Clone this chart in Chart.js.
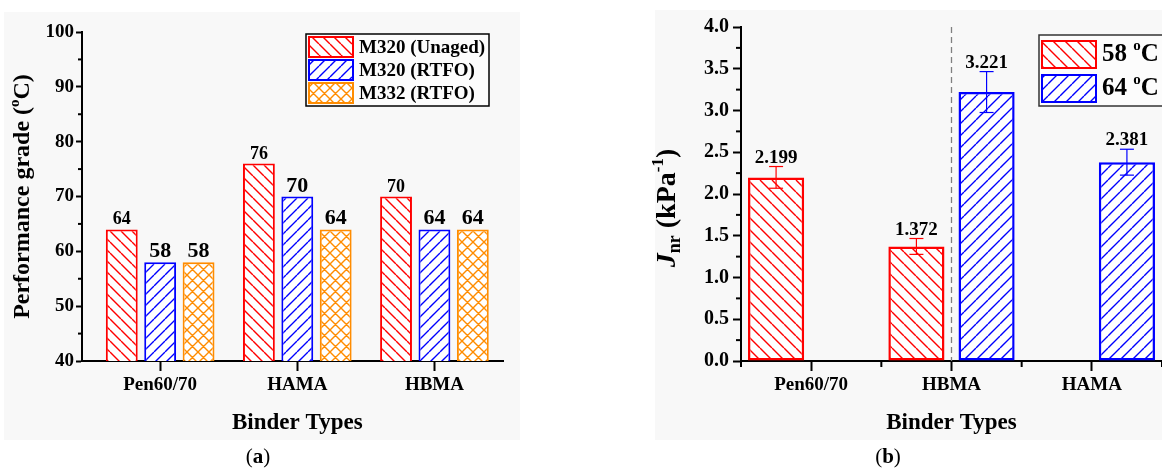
<!DOCTYPE html>
<html>
<head>
<meta charset="utf-8">
<script src="https://cdn.jsdelivr.net/npm/chart.js@4.4.0/dist/chart.umd.min.js"></script>
<style>
  body { margin: 0; background: #fff; width: 1162px; height: 469px; overflow: hidden; position: relative; font-family: "Liberation Serif", serif; }
  .panel { position: absolute; background: #f8f8f8; }
  canvas { position: absolute; top: 0; }
  .cap { position: absolute; top: 443px; width: 60px; text-align: center; font-size: 21px; line-height: 26px; color: #000; }
</style>
</head>
<body>
<div class="panel" style="left:4px;top:12px;width:516px;height:428px"></div>
<div class="panel" style="left:655px;top:10px;width:507px;height:430px"></div>
<canvas id="chartA" width="540" height="469" style="left:0"></canvas>
<canvas id="chartB" width="582" height="469" style="left:580px"></canvas>
<div class="cap" style="left:228px">(<b>a</b>)</div>
<div class="cap" style="left:858px">(<b>b</b>)</div>
<script>
// (a) performance grade
const categoriesA = ['Pen60/70', 'HAMA', 'HBMA'];
const seriesA = ['M320 (Unaged)', 'M320 (RTFO)', 'M332 (RTFO)'];
const unagedM320 = [64, 76, 70];
const rtfoM320 = [58, 70, 64];
const rtfoM332 = [58, 64, 64];

// (b) Jnr
const categoriesB = ['Pen60/70', 'HBMA', 'HAMA'];
const tempsB = ['58', '64'];
const jnr58 = [2.199, 1.372, null];
const jnr64 = [null, 3.221, 2.381];
const err58 = [0.13, 0.095, null];
const err64 = [null, 0.245, 0.155];

const FONT = '"Liberation Serif", "Times New Roman", serif';
const RED = '#ff0000', BLUE = '#0000ff', ORANGE = '#ff8c00';

Chart.defaults.font.family = FONT;
Chart.defaults.color = '#000';

function makePattern(color, kind, size) {
  const c = document.createElement('canvas');
  c.width = size; c.height = size;
  const g = c.getContext('2d');
  g.fillStyle = '#fff';
  g.fillRect(0, 0, size, size);
  g.strokeStyle = color;
  g.lineWidth = 1.4;
  g.beginPath();
  for (let k = -1; k <= 1; k++) {
    if (kind !== 'fwd') { g.moveTo(k * size, 0); g.lineTo(k * size + size, size); }
    if (kind !== 'back') { g.moveTo(k * size, size); g.lineTo(k * size + size, 0); }
  }
  g.stroke();
  return g.createPattern(c, 'repeat');
}

// text made of parts [text, font, dy], optionally rotated
function richText(ctx, parts, x, y, align, rotate) {
  let w = 0;
  parts.forEach(p => { ctx.font = p[1]; w += ctx.measureText(p[0]).width; });
  ctx.save();
  ctx.translate(x, y);
  if (rotate) ctx.rotate(-Math.PI / 2);
  let cx = align === 'center' ? -w / 2 : 0;
  ctx.textBaseline = 'middle';
  ctx.textAlign = 'left';
  ctx.fillStyle = '#000';
  parts.forEach(p => {
    ctx.font = p[1];
    ctx.fillText(p[0], cx, p[2] || 0);
    cx += ctx.measureText(p[0]).width;
  });
  ctx.restore();
}

function line(ctx, x1, y1, x2, y2) {
  ctx.beginPath(); ctx.moveTo(x1, y1); ctx.lineTo(x2, y2); ctx.stroke();
}

// ---------- chart (a) ----------
const extrasA = {
  id: 'extrasA',
  afterDraw(chart) {
    const { ctx, chartArea, scales: { x, y } } = chart;
    ctx.save();
    // minor y ticks
    ctx.strokeStyle = '#000'; ctx.lineWidth = 2;
    for (let v = 45; v < 100; v += 10) {
      const py = y.getPixelForValue(v);
      line(ctx, chartArea.left - 4, py, chartArea.left, py);
    }
    // value labels
    ctx.textAlign = 'center';
    ctx.textBaseline = 'alphabetic';
    ctx.fillStyle = '#000';
    chart.data.datasets.forEach((ds, i) => {
      const meta = chart.getDatasetMeta(i);
      ctx.font = 'bold ' + ds.labelSize + 'px ' + FONT;
      meta.data.forEach((el, j) => {
        ctx.fillText(String(ds.data[j].y), el.x, el.y - 5);
      });
    });
    // axis titles
    richText(ctx, [['Binder Types', 'bold 23px ' + FONT]], x.getPixelForValue(2), 423, 'center');
    richText(ctx, [
      ['Performance grade (', 'bold 24px ' + FONT],
      ['o', 'bold 15px ' + FONT, -8],
      ['C)', 'bold 24px ' + FONT]
    ], 23, (chartArea.top + chartArea.bottom) / 2, 'center', true);
    // legend
    ctx.strokeStyle = '#000'; ctx.lineWidth = 1.5;
    ctx.fillStyle = 'rgba(255,255,255,0.6)';
    ctx.fillRect(306, 34, 183, 72);
    ctx.strokeRect(306, 34, 183, 72);
    chart.data.datasets.forEach((ds, i) => {
      const sy = 37 + i * 23;
      ctx.fillStyle = ds.backgroundColor;
      ctx.fillRect(309, sy, 44, 20);
      ctx.strokeStyle = ds.borderColor; ctx.lineWidth = 2;
      ctx.strokeRect(309, sy, 44, 20);
      richText(ctx, [[ds.label, 'bold 19px ' + FONT]], 359, sy + 11, 'left');
    });
    ctx.restore();
  }
};

const ctxA = document.getElementById('chartA').getContext('2d');
const toPoints = arr => arr.map((v, i) => ({ x: i + 1, y: v }));
new Chart(ctxA, {
  type: 'bar',
  data: {
    datasets: [
      { label: seriesA[0], data: toPoints(unagedM320), backgroundColor: makePattern(RED, 'back', 11), borderColor: RED, labelSize: 18 },
      { label: seriesA[1], data: toPoints(rtfoM320), backgroundColor: makePattern(BLUE, 'fwd', 11), borderColor: BLUE, labelSize: 22 },
      { label: seriesA[2], data: toPoints(rtfoM332), backgroundColor: makePattern(ORANGE, 'cross', 11), borderColor: ORANGE, labelSize: 22 }
    ]
  },
  options: {
    responsive: false,
    animation: false,
    layout: { padding: { left: 0, top: 32, right: 37, bottom: 0 } },
    datasets: { bar: { borderWidth: 2, borderSkipped: false, categoryPercentage: 0.84, barPercentage: 0.83 } },
    plugins: { legend: { display: false }, tooltip: { enabled: false } },
    scales: {
      x: {
        type: 'linear', min: 0.43, max: 3.5, offset: false,
        afterBuildTicks: s => { s.ticks = categoriesA.map((c, i) => ({ value: i + 1 })); },
        afterFit: s => { s.height = 108; },
        ticks: { callback: v => categoriesA[v - 1] || '', autoSkip: false, maxRotation: 0, padding: 3, color: '#000', font: { size: 19, weight: 'bold' } },
        grid: { offset: false, drawOnChartArea: false, tickLength: 10, tickWidth: 2, tickColor: '#000' },
        border: { color: '#000', width: 2 }
      },
      y: {
        min: 40, max: 100,
        afterFit: s => { s.width = 82; },
        ticks: { stepSize: 10, padding: 2, color: '#000', font: { size: 19, weight: 'bold' } },
        grid: { drawOnChartArea: false, tickLength: 6, tickWidth: 2, tickColor: '#000' },
        border: { color: '#000', width: 2 }
      }
    }
  },
  plugins: [extrasA]
});

// ---------- chart (b) ----------
const extrasB = {
  id: 'extrasB',
  beforeDatasetsDraw(chart) {
    const { ctx, chartArea, scales: { x } } = chart;
    ctx.save();
    ctx.strokeStyle = '#808080'; ctx.lineWidth = 1.3;
    ctx.setLineDash([6, 4]);
    const px = x.getPixelForValue(1);
    line(ctx, px, chartArea.top, px, chartArea.bottom);
    ctx.restore();
  },
  afterDraw(chart) {
    const { ctx, chartArea, scales: { x, y } } = chart;
    ctx.save();
    ctx.strokeStyle = '#000'; ctx.lineWidth = 2;
    // minor ticks
    for (let v = 0.25; v < 4; v += 0.5) {
      const py = y.getPixelForValue(v);
      line(ctx, chartArea.left - 5, py, chartArea.left, py);
    }
    for (let k = -0.5; k < 3; k += 1) {
      const px = x.getPixelForValue(k);
      line(ctx, px, chartArea.bottom, px, chartArea.bottom + 6);
    }
    // error bars and labels
    chart.data.datasets.forEach((ds, i) => {
      const meta = chart.getDatasetMeta(i);
      meta.data.forEach((el, j) => {
        const v = ds.data[j];
        if (v === null) return;
        const e = ds.errors[j];
        const top = y.getPixelForValue(v + e), bot = y.getPixelForValue(v - e);
        ctx.strokeStyle = ds.borderColor; ctx.lineWidth = 1.2;
        line(ctx, el.x, top, el.x, bot);
        line(ctx, el.x - 7, top, el.x + 7, top);
        line(ctx, el.x - 7, bot, el.x + 7, bot);
        ctx.fillStyle = '#000';
        ctx.font = 'bold 19px ' + FONT;
        ctx.textAlign = 'center';
        ctx.textBaseline = 'alphabetic';
        ctx.fillText(v.toFixed(3), el.x, top - 4);
      });
    });
    // axis titles
    richText(ctx, [['Binder Types', 'bold 23px ' + FONT]], x.getPixelForValue(1), 423, 'center');
    richText(ctx, [
      ['J', 'bold italic 28px ' + FONT],
      ['nr', 'bold 18px ' + FONT, 7],
      [' (kPa', 'bold 28px ' + FONT],
      ['-1', 'bold 17px ' + FONT, -9],
      [')', 'bold 28px ' + FONT]
    ], 88, 208, 'center', true);
    // legend
    ctx.strokeStyle = '#333'; ctx.lineWidth = 1.5;
    ctx.fillStyle = 'rgba(255,255,255,0.6)';
    ctx.fillRect(459, 35, 140, 71);
    ctx.strokeRect(459, 35, 140, 71);
    chart.data.datasets.forEach((ds, i) => {
      const sy = 41 + i * 34;
      ctx.fillStyle = ds.backgroundColor;
      ctx.fillRect(462, sy, 54, 27);
      ctx.strokeStyle = ds.borderColor; ctx.lineWidth = 2;
      ctx.strokeRect(462, sy, 54, 27);
      richText(ctx, [
        [ds.label + ' ', 'bold 25px ' + FONT],
        ['o', 'bold 15px ' + FONT, -9],
        ['C', 'bold 25px ' + FONT]
      ], 522, sy + 14, 'left');
    });
    ctx.restore();
  }
};

const ctxB = document.getElementById('chartB').getContext('2d');
new Chart(ctxB, {
  type: 'bar',
  data: {
    labels: categoriesB,
    datasets: [
      { label: tempsB[0], data: jnr58, errors: err58, backgroundColor: makePattern(RED, 'back', 12), borderColor: RED },
      { label: tempsB[1], data: jnr64, errors: err64, backgroundColor: makePattern(BLUE, 'fwd', 12), borderColor: BLUE }
    ]
  },
  options: {
    responsive: false,
    animation: false,
    layout: { padding: { left: 0, top: 27, right: 0, bottom: 0 } },
    datasets: { bar: { borderWidth: 2.5, borderSkipped: false, categoryPercentage: 1.0, barPercentage: 0.8 } },
    plugins: { legend: { display: false }, tooltip: { enabled: false } },
    scales: {
      x: {
        afterFit: s => { s.height = 108; },
        ticks: { autoSkip: false, maxRotation: 0, padding: 3, color: '#000', font: { size: 19, weight: 'bold' } },
        grid: { offset: false, drawOnChartArea: false, tickLength: 10, tickWidth: 2, tickColor: '#000' },
        border: { color: '#000', width: 2 }
      },
      y: {
        min: 0, max: 4,
        afterFit: s => { s.width = 161; },
        ticks: { stepSize: 0.5, callback: v => v.toFixed(1), padding: 4, color: '#000', font: { size: 20, weight: 'bold' } },
        grid: { drawOnChartArea: false, tickLength: 8, tickWidth: 2, tickColor: '#000' },
        border: { color: '#000', width: 2 }
      }
    }
  },
  plugins: [extrasB]
});
</script>
</body>
</html>
